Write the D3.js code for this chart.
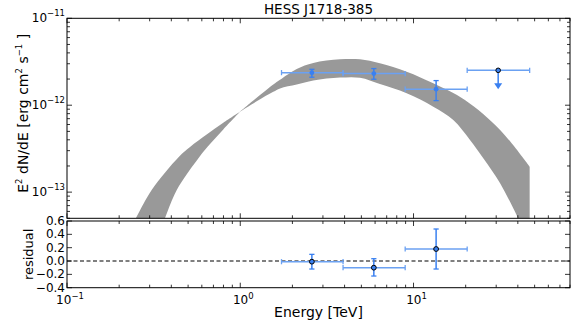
<!DOCTYPE html>
<html>
<head>
<meta charset="utf-8">
<script src="https://cdn.jsdelivr.net/npm/d3@7"></script>
<style>
  body { margin: 0; background: #fff; }
  svg { display: block; font-family: "DejaVu Sans", sans-serif; }
</style>
</head>
<body>
<div id="chart"></div>
<script>
// spectrum points (TeV, erg cm^-2 s^-1)
const energy = [2.59, 5.9, 13.5];
const energyLo = [1.73, 3.92, 8.95];
const energyHi = [3.92, 8.95, 20.4];
const flux = [2.37e-12, 2.31e-12, 1.53e-12];
const fluxHi = [2.59e-12, 2.64e-12, 1.92e-12];
const fluxLo = [2.10e-12, 1.99e-12, 1.13e-12];

// upper limit bin
const ulEnergy = [30.8];
const ulLo = [20.4];
const ulHi = [46.8];
const ulFlux = [2.52e-12];

// residuals
const resid = [-0.01, -0.10, 0.18];
const residHi = [0.10, 0.035, 0.48];
const residLo = [-0.12, -0.225, -0.12];

// butterfly band edges (pivot is shared by both)
const bandUpE = [0.250, 0.308, 0.443, 0.513, 0.640, 0.798, 0.996, 1.244, 1.551, 1.696, 2.117, 2.639, 3.764, 4.909, 6.40, 9.13, 13.0, 19.8, 31.6, 46.8];
const bandUpF = [5.0e-14, 1.059e-13, 2.56e-13, 3.31e-13, 4.60e-13, 6.28e-13, 8.41e-13, 1.217e-12, 1.730e-12, 1.960e-12, 2.61e-12, 3.06e-12, 3.37e-12, 3.37e-12, 3.03e-12, 2.43e-12, 1.787e-12, 1.148e-12, 5.19e-13, 1.96e-13];
const bandLoE = [0.368, 0.430, 0.582, 0.669, 0.798, 0.996, 1.244, 1.551, 1.696, 2.117, 2.639, 3.764, 4.909, 6.40, 9.13, 13.0, 16.96, 21.18, 25.27, 31.6, 40.2];
const bandLoF = [5.0e-14, 1.059e-13, 2.56e-13, 3.58e-13, 5.26e-13, 8.41e-13, 1.110e-12, 1.426e-12, 1.561e-12, 1.730e-12, 1.924e-12, 2.08e-12, 2.07e-12, 1.75e-12, 1.371e-12, 9.61e-13, 6.76e-13, 3.98e-13, 2.45e-13, 1.264e-13, 5.0e-14];
const pivotE = 0.996;

const residTicks = [0.6, 0.4, 0.2, 0.0, -0.2, -0.4];

const W = 571, H = 329;
const L = 67, R = 570;
const topT = 18.3, topB = 218.3;
const resT = 221, resB = 287.7;

const blue = '#3a80f0', blueLight = '#6ba1f2', gray = '#999999';

const svg = d3.select('#chart').append('svg')
  .attr('width', W).attr('height', H);

const x = d3.scaleLog().domain([0.1, 80]).range([L, R]);
const y = d3.scaleLog().domain([5e-14, 1e-11]).range([topB, topT]);
const yr = d3.scaleLinear().domain([-0.4, 0.6]).range([resB, resT]);

svg.append('clipPath').attr('id', 'clipTop')
  .append('rect').attr('x', L).attr('y', topT).attr('width', R - L).attr('height', topB - topT);

// band, drawn as two lobes that meet at the pivot
const upPts = bandUpE.map((e, i) => [x(e), y(bandUpF[i])]);
const loPts = bandLoE.map((e, i) => [x(e), y(bandLoF[i])]);
const iu = bandUpE.indexOf(pivotE), il = bandLoE.indexOf(pivotE);
const edge = d3.line().curve(d3.curveCatmullRom.alpha(0.5));
const joinPath = (a, b, extra) => {
  let d = edge(a);
  (extra || []).forEach(p => { d += 'L' + p[0] + ',' + p[1]; });
  d += 'L' + edge(b).slice(1) + 'Z';
  return d;
};
const gBand = svg.append('g').attr('clip-path', 'url(#clipTop)');
gBand.append('path')
  .attr('d', joinPath(upPts.slice(0, iu + 1), loPts.slice(0, il + 1).reverse(), []))
  .attr('fill', gray);
const lastUp = upPts[upPts.length - 1], lastLo = loPts[loPts.length - 1];
gBand.append('path')
  .attr('d', joinPath(upPts.slice(iu), loPts.slice(il).reverse(),
    [[lastUp[0], topB + 3], [lastLo[0], topB + 3]]))
  .attr('fill', gray);

// ticks
const xMinor = x.ticks().filter(v => v >= 0.1 && v <= 80);
const isMajor = (v) => Math.abs(Math.log10(v) - Math.round(Math.log10(v))) < 1e-6;

const drawXTicks = (y0, dir) => {
  svg.append('g').selectAll('line')
    .data(xMinor)
    .enter()
    .append('line')
    .attr('x1', d => x(d)).attr('x2', d => x(d))
    .attr('y1', y0)
    .attr('y2', d => y0 + dir * (isMajor(d) ? 5 : 3))
    .attr('stroke', '#000').attr('stroke-width', 0.8);
};
drawXTicks(topT, 1);
drawXTicks(topB, -1);
drawXTicks(resT, 1);
drawXTicks(resB, -1);

const yTicksAll = y.ticks().filter(v => v >= 5e-14 * 0.999 && v <= 1e-11 * 1.001);
[L, R].forEach((x0, k) => {
  const dir = k === 0 ? 1 : -1;
  svg.append('g').selectAll('line')
    .data(yTicksAll)
    .enter()
    .append('line')
    .attr('y1', d => y(d)).attr('y2', d => y(d))
    .attr('x1', x0)
    .attr('x2', d => x0 + dir * (isMajor(d) ? 5 : 3))
    .attr('stroke', '#000').attr('stroke-width', 0.8);
  svg.append('g').selectAll('line')
    .data(residTicks)
    .enter()
    .append('line')
    .attr('y1', d => yr(d)).attr('y2', d => yr(d))
    .attr('x1', x0)
    .attr('x2', x0 + dir * 5)
    .attr('stroke', '#000').attr('stroke-width', 0.8);
});

// zero line in residual panel
svg.append('line')
  .attr('x1', L).attr('x2', R)
  .attr('y1', yr(0)).attr('y2', yr(0))
  .attr('stroke', '#000').attr('stroke-width', 1.2)
  .attr('stroke-dasharray', '4,2.5');

// error bars
const drawErr = (g, xs, xlo, xhi, ys, ylo, yhi) => {
  xs.forEach((_, i) => {
    const cy = ys[i], cx = xs[i];
    g.append('line').attr('x1', xlo[i]).attr('x2', xhi[i]).attr('y1', cy).attr('y2', cy)
      .attr('stroke', blueLight).attr('stroke-width', 1.5);
    [xlo[i], xhi[i]].forEach(px => {
      g.append('line').attr('x1', px).attr('x2', px).attr('y1', cy - 2.6).attr('y2', cy + 2.6)
        .attr('stroke', blueLight).attr('stroke-width', 1.3);
    });
    if (ylo) {
      g.append('line').attr('x1', cx).attr('x2', cx).attr('y1', ylo[i]).attr('y2', yhi[i])
        .attr('stroke', blue).attr('stroke-width', 1.5);
      [ylo[i], yhi[i]].forEach(py => {
        g.append('line').attr('x1', cx - 2.6).attr('x2', cx + 2.6).attr('y1', py).attr('y2', py)
          .attr('stroke', blue).attr('stroke-width', 1.3);
      });
    }
  });
};

const gTop = svg.append('g');
drawErr(gTop,
  energy.map(x), energyLo.map(x), energyHi.map(x),
  flux.map(y), fluxLo.map(y), fluxHi.map(y));
gTop.selectAll('circle.pt')
  .data(energy)
  .enter()
  .append('circle')
  .attr('class', 'pt')
  .attr('cx', d => x(d))
  .attr('cy', (d, i) => y(flux[i]))
  .attr('r', 2.4)
  .attr('fill', blue);

// upper limit
drawErr(gTop, ulEnergy.map(x), ulLo.map(x), ulHi.map(x), ulFlux.map(y), null, null);
ulEnergy.forEach((e, i) => {
  const cx = x(e), cy = y(ulFlux[i]);
  gTop.append('line').attr('x1', cx).attr('x2', cx).attr('y1', cy).attr('y2', cy + 14)
    .attr('stroke', blue).attr('stroke-width', 1.5);
  gTop.append('path')
    .attr('d', `M${cx - 4},${cy + 13}L${cx + 4},${cy + 13}L${cx},${cy + 19}Z`)
    .attr('fill', blue);
  gTop.append('circle').attr('cx', cx).attr('cy', cy).attr('r', 2.3)
    .attr('fill', blue).attr('stroke', '#000').attr('stroke-width', 1);
});

// residual points
const gRes = svg.append('g');
drawErr(gRes,
  energy.map(x), energyLo.map(x), energyHi.map(x),
  resid.map(yr), residLo.map(yr), residHi.map(yr));
gRes.selectAll('circle')
  .data(resid)
  .enter()
  .append('circle')
  .attr('cx', (d, i) => x(energy[i]))
  .attr('cy', d => yr(d))
  .attr('r', 2.4)
  .attr('fill', blue).attr('stroke', '#000').attr('stroke-width', 1);

// frames
[[topT, topB], [resT, resB]].forEach(([t, b]) => {
  svg.append('rect')
    .attr('x', L).attr('y', t).attr('width', R - L).attr('height', b - t)
    .attr('fill', 'none').attr('stroke', '#000').attr('stroke-width', 1);
});

// y tick labels (top)
const yMajor = [1e-11, 1e-12, 1e-13];
yMajor.forEach(v => {
  const t = svg.append('text')
    .attr('x', L - 2).attr('y', y(v) + 4)
    .attr('text-anchor', 'end')
    .attr('font-size', 12);
  t.append('tspan').text('10');
  t.append('tspan').attr('dy', -6).attr('font-size', 8.5).text('−' + Math.round(-Math.log10(v)));
});

// residual tick labels
residTicks.forEach(v => {
  svg.append('text')
    .attr('x', L - 2).attr('y', yr(v) + 4)
    .attr('text-anchor', 'end')
    .attr('font-size', 12)
    .text((v < 0 ? '−' : '') + Math.abs(v).toFixed(1));
});

// x tick labels
[0.1, 1, 10].forEach(v => {
  const p = Math.round(Math.log10(v));
  const t = svg.append('text')
    .attr('x', x(v) + 3).attr('y', resB + 16)
    .attr('text-anchor', 'middle')
    .attr('font-size', 12);
  t.append('tspan').text('10');
  t.append('tspan').attr('dy', -5).attr('font-size', 8.5).text(p < 0 ? '−' + (-p) : String(p));
});

// title and axis labels
svg.append('text')
  .attr('x', (L + R) / 2).attr('y', 14)
  .attr('text-anchor', 'middle')
  .attr('font-size', 13.5)
  .text('HESS J1718-385');

svg.append('text')
  .attr('x', (L + R) / 2).attr('y', 317)
  .attr('text-anchor', 'middle')
  .attr('font-size', 14)
  .text('Energy [TeV]');

const yl = svg.append('text')
  .attr('transform', `translate(28,${(topT + topB) / 2 - 5}) rotate(-90)`)
  .attr('text-anchor', 'middle')
  .attr('font-size', 14);
yl.append('tspan').text('E');
yl.append('tspan').attr('dy', -6).attr('font-size', 8.5).text('2');
yl.append('tspan').attr('dy', 6).text(' dN/dE [erg cm');
yl.append('tspan').attr('dy', -6).attr('font-size', 8.5).text('2');
yl.append('tspan').attr('dy', 6).text(' s');
yl.append('tspan').attr('dy', -6).attr('font-size', 8.5).text('−1');
yl.append('tspan').attr('dy', 6).text(' ]');

svg.append('text')
  .attr('transform', `translate(33,${(resT + resB) / 2}) rotate(-90)`)
  .attr('text-anchor', 'middle')
  .attr('font-size', 13)
  .text('residual');
</script>
</body>
</html>
